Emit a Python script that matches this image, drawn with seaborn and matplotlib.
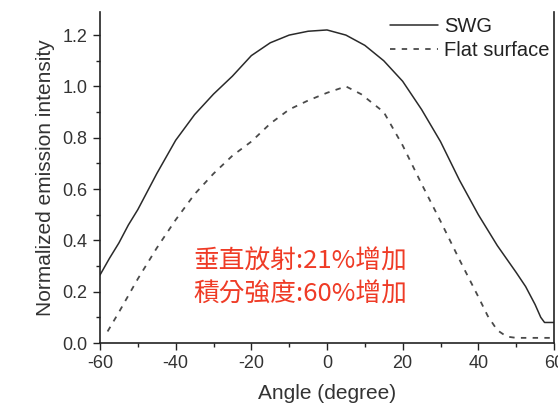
import matplotlib
matplotlib.use("Agg")
import matplotlib.pyplot as plt
import seaborn as sns
import pandas as pd
from matplotlib.ticker import MultipleLocator

angle_swg = [-60, -57.5, -55, -52.5, -50, -45, -40, -35, -30, -25, -20, -15, -10, -5, 0, 5, 10, 15, 20, 25, 30, 35, 40, 45, 50, 52.5, 55, 56.5, 57.5, 60]
swg = [0.265, 0.33, 0.39, 0.46, 0.52, 0.66, 0.79, 0.89, 0.97, 1.04, 1.12, 1.17, 1.20, 1.215, 1.22, 1.20, 1.16, 1.10, 1.02, 0.91, 0.785, 0.635, 0.50, 0.38, 0.275, 0.22, 0.15, 0.10, 0.08, 0.08]

angle_flat = [-58, -55, -50, -45, -40, -35, -30, -25, -20, -15, -10, -5, 0, 5, 9, 15, 20, 25, 30, 35, 40, 42.5, 45, 47.5, 50, 55, 60]
flat = [0.045, 0.12, 0.25, 0.37, 0.48, 0.58, 0.66, 0.73, 0.785, 0.855, 0.91, 0.945, 0.975, 1.00, 0.97, 0.90, 0.77, 0.62, 0.475, 0.325, 0.18, 0.105, 0.05, 0.025, 0.02, 0.02, 0.02]

x_ticks = [-60, -40, -20, 0, 20, 40, 60]
y_ticks = [0.0, 0.2, 0.4, 0.6, 0.8, 1.0, 1.2]
annot = ["垂直放射:21%增加", "積分強度:60%增加"]

sns.set_style("ticks")
plt.rcParams['font.family'] = ['Liberation Sans', 'DejaVu Sans']

fig = plt.figure(figsize=(5.58, 4.05), dpi=100)
ax = fig.add_axes([100/558, 1-343/405, 454/558, 331/405])

df1 = pd.DataFrame({"x": angle_swg, "y": swg})
df2 = pd.DataFrame({"x": angle_flat, "y": flat})
sns.lineplot(data=df1, x="x", y="y", ax=ax, color="#2a2a2a", lw=1.1, label="SWG")
sns.lineplot(data=df2, x="x", y="y", ax=ax, color="#4a4a4a", lw=1.3, linestyle=(0, (3.0, 3.5)), label="Flat surface")

ax.set_xlim(-60, 60)
ax.set_ylim(0, 1.29)
ax.set_xticks(x_ticks)
ax.set_yticks(y_ticks)
ax.set_xticklabels([str(t) for t in x_ticks])
ax.set_yticklabels([f"{t:.1f}" for t in y_ticks])
ax.xaxis.set_minor_locator(MultipleLocator(10))
ax.yaxis.set_minor_locator(MultipleLocator(0.1))
ax.tick_params(axis='both', which='major', labelsize=13, length=5, width=1, colors='#222222', labelcolor='#333333', pad=4)
ax.tick_params(axis='both', which='minor', length=3, width=1, colors='#222222')
for s in ['left', 'bottom', 'right']:
    ax.spines[s].set_visible(True)
    ax.spines[s].set_linewidth(1.2)
    ax.spines[s].set_color('#222222')
ax.spines['top'].set_visible(False)

ax.set_xlabel("Angle (degree)", fontsize=15, color='#333333', labelpad=8)
ax.set_ylabel("Normalized emission intensity", fontsize=15, color='#333333', labelpad=5)

leg = ax.legend(loc='upper right', frameon=False, fontsize=14.5, handlelength=2.4,
                labelspacing=0.25, handletextpad=0.3, borderaxespad=0.0,
                borderpad=0.0, bbox_to_anchor=(0.99, 0.985))
for t in leg.get_texts():
    t.set_color('#222222')

ax.text(0.205, 0.245, annot[0], transform=ax.transAxes, fontsize=18.5, color='#ef3b26',
        family=['Noto Sans CJK TC', 'DejaVu Sans'], va='center', ha='left')
ax.text(0.205, 0.145, annot[1], transform=ax.transAxes, fontsize=18.5, color='#ef3b26',
        family=['Noto Sans CJK TC', 'DejaVu Sans'], va='center', ha='left')

fig.savefig("out.png", dpi=100)
